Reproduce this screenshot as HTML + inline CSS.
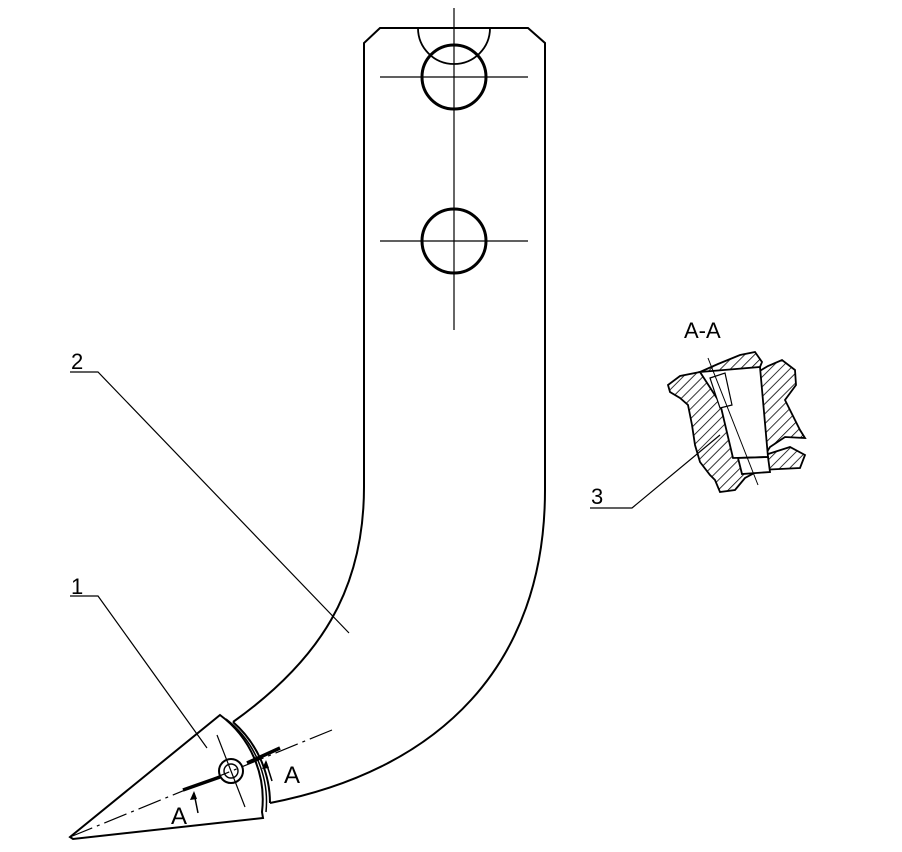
<!DOCTYPE html>
<html><head><style>body{margin:0;background:#fff}svg{display:block}</style></head>
<body>
<svg width="902" height="852" viewBox="0 0 902 852" xmlns="http://www.w3.org/2000/svg">
<defs>
<pattern id="h" width="7" height="7" patternUnits="userSpaceOnUse" patternTransform="rotate(45)">
<line x1="0" y1="0" x2="0" y2="7" stroke="#000" stroke-width="1.6"/></pattern>
</defs>
<g fill="none" stroke="#000" stroke-width="2">
<path d="M364,487 L364,43 L380,28 L528,28 L545,43 L545,490 C545,665 440,770 270,803"/>
<path d="M364,487 C364,590 320,660 233,722"/>
<path d="M418,28 A36,36 0 0 0 490,28" stroke-width="1.8"/>
<circle cx="454" cy="77" r="32" stroke-width="3"/>
<circle cx="454" cy="241" r="32" stroke-width="3"/>
<path d="M70,837 L220,715 A105,105 0 0 1 262,812 L263,818 L73,839 Z"/>
<path d="M226,719 A105,105 0 0 1 266,812" stroke-width="1.5"/>
<path d="M233,722 A108,108 0 0 1 270,803"/>
<circle cx="231" cy="771" r="12"/>
<circle cx="231" cy="771" r="7" stroke-width="1.4"/>
</g>
<g stroke="#000" stroke-width="1.2" fill="none">
<line x1="454" y1="8" x2="454" y2="330"/>
<line x1="380" y1="77" x2="528" y2="77"/>
<line x1="380" y1="241" x2="528" y2="241"/>
<line x1="70" y1="837" x2="332" y2="730" stroke-dasharray="24,5,3,5"/>
<line x1="217" y1="735" x2="245" y2="807"/>
<polyline points="70,372 98,372 349,633"/>
<polyline points="70,596 98,596 207,748"/>
<polyline points="590,508 632,508 720,435"/>
</g>
<g stroke="#000" stroke-width="3.5">
<line x1="183" y1="790" x2="220" y2="777"/>
<line x1="247" y1="763" x2="280" y2="748"/>
</g>
<g stroke="#000" stroke-width="1.5">
<line x1="198" y1="813" x2="194" y2="793"/>
<line x1="272" y1="781" x2="266" y2="762"/>
</g>
<g fill="#000">
<polygon points="194,791 190,800 197,799"/>
<polygon points="266,760 262,769 269,768"/>
</g>
<g stroke="#000" stroke-width="1.8">
<path d="M670,392 L668,385 L680,376 L700,372 L718,364 L740,355 L755,352 L762,362 L758,372 L768,366 L782,360 L795,370 L796,385 L785,400 L800,430 L805,438 L785,437 L770,447 L765,455 L790,447 L805,455 L800,468 L760,470 L745,478 L735,490 L720,492 L715,480 L710,475 L700,462 L695,445 L692,425 L688,405 L680,398 Z" fill="url(#h)"/>
<path d="M700,372 L760,367 L768,457 L733,458 L720,403 Z" fill="#fff"/>
<path d="M738,458 L768,457 L770,472 L742,474 Z" fill="#fff"/>
<path d="M710,378 L725,373 L732,405 L720,408 Z" fill="#fff" stroke-width="1.2"/>
<line x1="708" y1="358" x2="758" y2="485" stroke-width="1"/>
</g>
<g font-family="Liberation Sans, sans-serif" font-size="22" fill="#000">
<text x="71" y="369">2</text>
<text x="71" y="594">1</text>
<text x="591" y="504">3</text>
<text x="684" y="338">A-A</text>
<text x="171" y="824" font-size="24">A</text>
<text x="284" y="783" font-size="24">A</text>
</g>
</svg>
</body></html>
